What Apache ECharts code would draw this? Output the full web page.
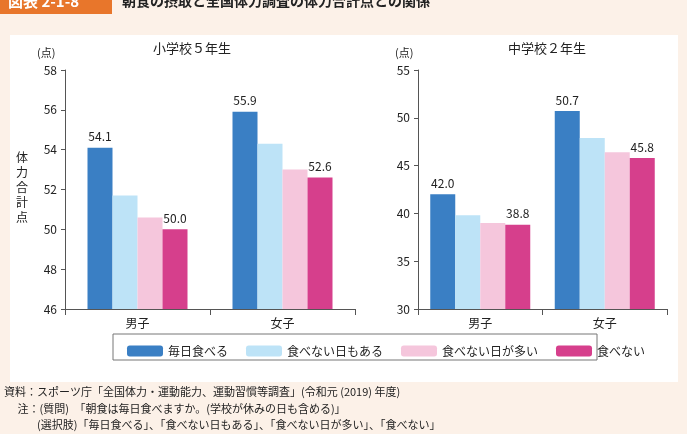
<!DOCTYPE html>
<html lang="ja">
<head>
<meta charset="UTF-8">
<title>朝食の摂取と全国体力調査の体力合計点との関係</title>
<script src="https://cdn.jsdelivr.net/npm/echarts@6/dist/echarts.min.js"></script>
<style>
  body { margin: 0; background: #fcf1e8; font-family: "Noto Sans CJK JP", sans-serif; }
  #main { width: 687px; height: 434px; }
</style>
</head>
<body>
<div id="main"></div>
<script>
// カテゴリと系列
var categories = ['男子', '女子'];
var seriesNames = ['毎日食べる', '食べない日もある', '食べない日が多い', '食べない'];
var colors = ['#3a7fc4', '#bde3f7', '#f5c6dc', '#d63f8c'];
// 小学校5年生
var elemValues = [
    [54.1, 55.9],
    [51.7, 54.3],
    [50.6, 53.0],
    [50.0, 52.6]
];
// 中学校2年生
var juniorValues = [
    [42.0, 50.7],
    [39.8, 47.9],
    [39.0, 46.4],
    [38.8, 45.8]
];
// ラベルを出す系列（最初と最後）
var labeled = [true, false, false, true];

var myChart = echarts.init(document.getElementById('main'));
var txt = '#222';
var font = '"Noto Sans CJK JP", sans-serif';

var series = [];
function addSeries(values, idx) {
    for (var i = 0; i < seriesNames.length; i++) {
        series.push({
            name: seriesNames[i],
            type: 'bar',
            xAxisIndex: idx, yAxisIndex: idx,
            barWidth: 25,
            barGap: '0%',
            itemStyle: { color: colors[i] },
            label: {
                show: labeled[i], position: 'top', color: txt, fontSize: 12, fontFamily: font,
                formatter: function (p) { return p.value.toFixed(1); }
            },
            data: values[i]
        });
    }
}
addSeries(elemValues, 0);
addSeries(juniorValues, 1);

function yAxis(gi, min, max, interval) {
    return {
        type: 'value', gridIndex: gi, min: min, max: max, interval: interval,
        axisLine: { show: true, lineStyle: { color: '#555' } },
        axisTick: { show: true, length: 4, lineStyle: { color: '#555' } },
        splitLine: { show: false },
        axisLabel: { color: txt, fontSize: 12, fontFamily: font }
    };
}
function xAxis(gi) {
    return {
        type: 'category', gridIndex: gi, data: categories,
        axisLine: { lineStyle: { color: '#555' } },
        axisTick: { show: true, length: 6, lineStyle: { color: '#555' } },
        axisLabel: { color: txt, fontSize: 12, fontFamily: font, margin: 8 }
    };
}

myChart.setOption({
    animation: false,
    graphic: [
        { type: 'rect', shape: { x: 10, y: 35, width: 668, height: 347 }, style: { fill: '#fff' } },
        { type: 'rect', shape: { x: 0, y: -10, width: 112, height: 24 }, style: { fill: '#e8762b' } },
        { type: 'text', left: 8, top: -6, style: { text: '図表 2-1-8', fill: '#fff', font: 'bold 15px ' + font } },
        { type: 'text', left: 122, top: -6, style: { text: '朝食の摂取と全国体力調査の体力合計点との関係', fill: '#222', font: 'bold 14px ' + font } },
        { type: 'text', left: 37, top: 47, style: { text: '(点)', fill: txt, font: '11px ' + font } },
        { type: 'text', left: 395, top: 47, style: { text: '(点)', fill: txt, font: '11px ' + font } },
        { type: 'text', left: 153, top: 42, style: { text: '小学校５年生', fill: txt, font: '13px ' + font } },
        { type: 'text', left: 508, top: 42, style: { text: '中学校２年生', fill: txt, font: '13px ' + font } },
        { type: 'text', left: 16, top: 150, style: { text: '体\n力\n合\n計\n点', fill: txt, font: '12px ' + font, lineHeight: 15 } },
        { type: 'rect', shape: { x: 113, y: 334, width: 484, height: 26 }, style: { fill: 'none', stroke: '#777', lineWidth: 1 } },
        { type: 'text', left: 4, top: 386, style: { text: '資料：スポーツ庁「全国体力・運動能力、運動習慣等調査」(令和元 (2019) 年度)', fill: txt, font: '11px ' + font } },
        { type: 'text', left: 4, top: 403, style: { text: '　 注：(質問)　「朝食は毎日食べますか。(学校が休みの日も含める)」', fill: txt, font: '11px ' + font } },
        { type: 'text', left: 4, top: 419, style: { text: '　　　(選択肢)「毎日食べる」、「食べない日もある」、「食べない日が多い」、「食べない」', fill: txt, font: '11px ' + font } }
    ],
    legend: {
        data: seriesNames, left: 122, top: 340, itemWidth: 36, itemHeight: 11, itemGap: 18,
        textStyle: { color: txt, fontSize: 12, fontFamily: font }
    },
    grid: [
        { left: 65, right: 332, top: 70, bottom: 125 },
        { left: 418, right: 20, top: 70, bottom: 125 }
    ],
    xAxis: [xAxis(0), xAxis(1)],
    yAxis: [yAxis(0, 46, 58, 2), yAxis(1, 30, 55, 5)],
    series: series
});
</script>
</body>
</html>
